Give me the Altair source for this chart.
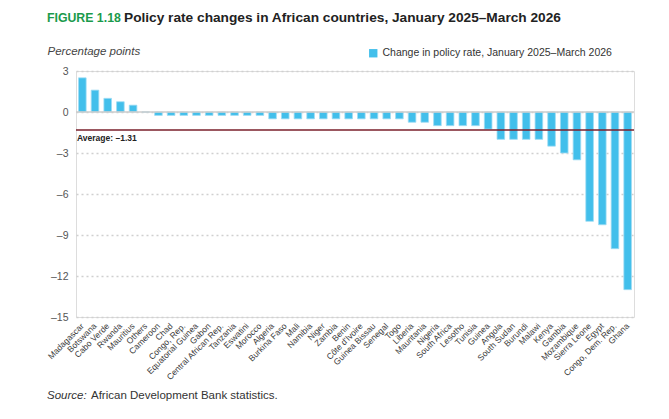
import altair as alt
import pandas as pd

countries = ["Madagascar", "Botswana", "Cabo Verde", "Rwanda", "Mauritius", "Others",
             "Cameroon", "Chad", "Congo, Rep.", "Equatorial Guinea", "Gabon",
             "Central African Rep.", "Tanzania", "Eswatini", "Morocco", "Algeria",
             "Burkina Faso", "Mali", "Namibia", "Niger", "Zambia", "Benin",
             "Côte d'Ivoire", "Guinea Bissau", "Senegal", "Togo", "Liberia",
             "Mauritania", "Nigeria", "South Africa", "Lesotho", "Tunisia", "Guinea",
             "Angola", "South Sudan", "Burundi", "Malawi", "Kenya", "Gambia",
             "Mozambique", "Sierra Leone", "Egypt", "Congo, Dem. Rep.", "Ghana"]
changes = [2.5, 1.6, 1.0, 0.75, 0.5, 0.0,
           -0.25, -0.25, -0.25, -0.25, -0.25, -0.25, -0.25, -0.25, -0.25,
           -0.5, -0.5, -0.5, -0.5, -0.5, -0.5, -0.5, -0.5, -0.5, -0.5, -0.5,
           -0.75, -0.75, -1.0, -1.0, -1.0, -1.0, -1.25,
           -2.0, -2.0, -2.0, -2.0, -2.5, -3.0, -3.5, -8.0, -8.25, -10.0, -13.0]
average = -1.31
y_ticks = [3, 0, -3, -6, -9, -12, -15]
series_name = "Change in policy rate, January 2025\u2013March 2026"

df = pd.DataFrame({"country": countries, "change": changes, "series": series_name})
one = pd.DataFrame({"k": [0]})

FONT = "Liberation Sans Narrow, Arial Narrow, Liberation Sans, Arial, sans-serif"
FONT2 = "Liberation Sans, Arial, sans-serif"

W, H = 558, 246

ydom = alt.Scale(domain=[-15, 3], nice=False, zero=False)

bars = alt.Chart(df).mark_bar(stroke="#9edcf4", strokeWidth=0.8).encode(
    x=alt.X("country:N", sort=countries,
            scale=alt.Scale(paddingInner=0.4, paddingOuter=0.2),
            axis=alt.Axis(title=None, labelAngle=-45, labelAlign="right",
                          labelBaseline="middle", labelFontSize=8.5, labelFont=FONT,
                          labelColor="#3a3a3a", labelPadding=7, ticks=False,
                          domain=False, labelOverlap=False, labelBound=False)),
    y=alt.Y("change:Q", scale=ydom,
            axis=alt.Axis(values=y_ticks, title="Percentage points", titleAngle=0,
                          titleAlign="left", titleBaseline="alphabetic",
                          titleX=-29, titleY=-17, titleFont=FONT2,
                          titleFontSize=11.5, titleFontStyle="italic",
                          titleFontWeight="normal", titleColor="#444444",
                          labelFont=FONT2, labelFontSize=10.5, labelColor="#555555",
                          labelPadding=8, ticks=False, domain=False,
                          grid=True, gridDash=[2, 3], gridColor="#d0d0d0",
                          gridWidth=1.3,
                          labelExpr="datum.value < 0 ? '\u2013' + abs(datum.value) : datum.label")),
    color=alt.Color("series:N", scale=alt.Scale(range=["#42bfeb"]),
                    legend=alt.Legend(title=None, orient="none", legendX=292, legendY=-23,
                                      symbolType="square", symbolSize=70,
                                      symbolStrokeWidth=0, labelFont=FONT2,
                                      labelFontSize=10.5, labelColor="#333333",
                                      labelLimit=400)),
)

zero = alt.Chart(one).mark_rule(color="#cccccc", strokeWidth=1.5).encode(
    y=alt.datum(0, scale=ydom)
)

avg_rule = alt.Chart(one).mark_rule(color="#7a1f2b", strokeWidth=1.5).encode(
    y=alt.datum(average, scale=ydom)
)

avg_text = alt.Chart(one).mark_text(
    align="left", baseline="top", dy=4, fontSize=8.5, fontWeight="bold",
    font=FONT2, color="#222222"
).encode(
    x=alt.value(1),
    y=alt.datum(average, scale=ydom),
    text=alt.value("Average: \u20131.31"),
)

title1 = alt.Chart(one).mark_text(
    align="left", baseline="middle", fontSize=12.3, fontWeight="bold",
    font=FONT2, color="#1a9a4b"
).encode(x=alt.value(-29), y=alt.value(-53), text=alt.value("FIGURE 1.18"))

title2 = alt.Chart(one).mark_text(
    align="left", baseline="middle", fontSize=13.7, fontWeight="bold",
    font=FONT2, color="#222222"
).encode(x=alt.value(48), y=alt.value(-53),
         text=alt.value("Policy rate changes in African countries, January 2025\u2013March 2026"))

src1 = alt.Chart(one).mark_text(
    align="left", baseline="middle", fontSize=11.5, fontStyle="italic",
    font=FONT2, color="#333333"
).encode(x=alt.value(-29), y=alt.value(325), text=alt.value("Source:"))

src2 = alt.Chart(one).mark_text(
    align="left", baseline="middle", fontSize=11.5,
    font=FONT2, color="#333333"
).encode(x=alt.value(15), y=alt.value(325),
         text=alt.value("African Development Bank statistics."))

chart = alt.layer(bars, zero, avg_rule, avg_text, title1, title2, src1, src2).properties(
    width=W, height=H,
    autosize=alt.AutoSizeParams(type="none"),
    padding={"left": 68, "top": 63, "right": 25, "bottom": 90},
).configure_view(stroke=None).configure(background="white")

chart.save("out.html", embed_options={"renderer": "svg", "actions": False})
